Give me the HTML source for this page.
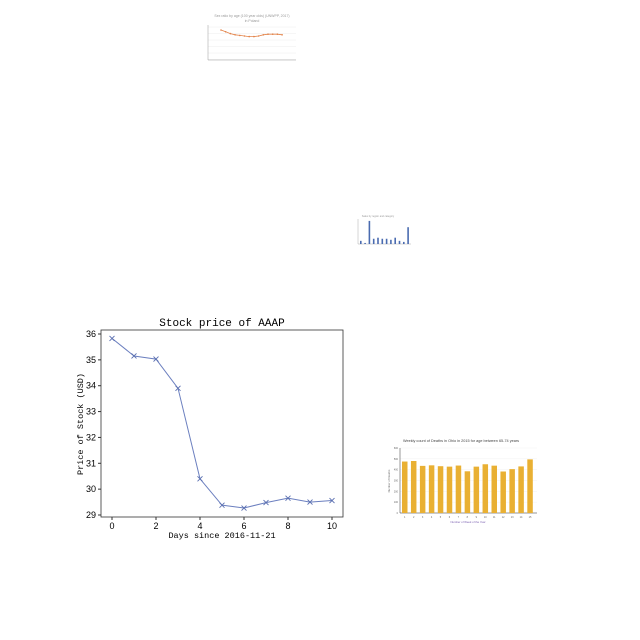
<!DOCTYPE html>
<html><head><meta charset="utf-8"><style>
body{margin:0;background:#fff;width:640px;height:640px;overflow:hidden}
svg{position:absolute;left:0;top:0}
</style></head><body>
<svg width="640" height="640">
<g id="main"></g>
<g id="mini1"></g>
<g id="mini2"></g>
<g id="mini3"></g>
</svg>
<script>
const days=[0,1,2,3,4,5,6,7,8,9,10];
const prices=[35.83,35.15,35.03,33.9,30.4,29.38,29.27,29.48,29.65,29.5,29.56];
const yTicks=[29,30,31,32,33,34,35,36];
const xTicks=[0,2,4,6,8,10];
const ratioVals=[105,102,99,97,96,95,94,94,95,97,98,98,98,97];
const miniBars=[3,1,22,5,6,5,5,4,6,3,2,16];
const weekLabels=[1,2,3,4,5,6,7,8,9,10,11,12,13,14,15];
const deaths=[475,480,435,440,432,428,438,385,428,450,437,383,405,430,495];
const NS='http://www.w3.org/2000/svg';
function el(p,t,a,txt){const e=document.createElementNS(NS,t);for(const k in a)e.setAttribute(k,a[k]);if(txt!==undefined)e.textContent=txt;p.appendChild(e);return e;}
// main
const g=document.getElementById('main');
const X=d=>112+(d-0)*22, Y=v=>515-(v-29)*(181/7);
const mono='"Liberation Mono","DejaVu Sans Mono",monospace';
let t=el(g,'text',{x:222,y:326,'text-anchor':'middle','font-family':mono,'font-size':11},'Stock price of AAAP');

let r=el(g,'rect',{x:101,y:330,width:242,height:187,fill:'none',stroke:'#333','stroke-width':0.8});

yTicks.forEach(v=>{el(g,'line',{x1:98,x2:101,y1:Y(v),y2:Y(v),stroke:'#333'});
 const l=el(g,'text',{x:96,y:Y(v)+3,'text-anchor':'end','font-family':'"Liberation Sans",sans-serif','font-size':9},v);
 });
xTicks.forEach(v=>{el(g,'line',{x1:X(v),x2:X(v),y1:517,y2:520,stroke:'#333'});
 const l=el(g,'text',{x:X(v),y:529,'text-anchor':'middle','font-family':'"Liberation Sans",sans-serif','font-size':9},v);
 });
t=el(g,'text',{x:222,y:538,'text-anchor':'middle','font-family':mono,'font-size':8.5},'Days since 2016-11-21');

t=el(g,'text',{x:0,y:0,transform:'translate(83,424) rotate(-90)','text-anchor':'middle','font-family':mono,'font-size':8.5},'Price of Stock (USD)');

let pl=el(g,'polyline',{points:days.map((d,i)=>X(d)+','+Y(prices[i])).join(' '),fill:'none',stroke:'#6b7fbf','stroke-width':1});

days.forEach((d,i)=>{const x=X(d),y=Y(prices[i]);
 const m=el(g,'path',{d:`M${x-2.5},${y-2.5}L${x+2.5},${y+2.5}M${x-2.5},${y+2.5}L${x+2.5},${y-2.5}`,stroke:'#5a6fb0','stroke-width':0.9});
 });
// mini1
const g1=document.getElementById('mini1');
el(g1,'text',{x:252,y:17,'text-anchor':'middle','font-size':3.5,fill:'#999','font-family':'Liberation Sans'},'Sex ratio by age (100 year olds) (UNWPP, 2017)');
el(g1,'text',{x:252,y:22,'text-anchor':'middle','font-size':3.5,fill:'#999','font-family':'Liberation Sans'},'in Poland');
for(let i=0;i<6;i++)el(g1,'line',{x1:208,x2:296,y1:27+i*6.5,y2:27+i*6.5,stroke:'#eee','stroke-width':0.5});
el(g1,'line',{x1:208,x2:296,y1:60,y2:60,stroke:'#999','stroke-width':0.5});
el(g1,'line',{x1:208,x2:208,y1:25,y2:60,stroke:'#999','stroke-width':0.5});
el(g1,'polyline',{points:ratioVals.map((v,i)=>(221+i*4.7)+','+(30+(105-v)*0.6)).join(' '),fill:'none',stroke:'#e3844a','stroke-width':0.8});
ratioVals.forEach((v,i)=>{const c=el(g1,'circle',{cx:221+i*4.7,cy:30+(105-v)*0.6,r:0.8,fill:'#e3844a'});});
// mini2
const g2=document.getElementById('mini2');
el(g2,'text',{x:378,y:217,'text-anchor':'middle','font-size':2.5,fill:'#999','font-family':'Liberation Sans'},'Sales by region and category');
el(g2,'line',{x1:358,x2:411,y1:244,y2:244,stroke:'#999','stroke-width':0.4});
el(g2,'line',{x1:358,x2:358,y1:219,y2:244,stroke:'#999','stroke-width':0.4});
miniBars.forEach((v,i)=>{const h=v*1.05;const b=el(g2,'rect',{x:360+i*4.3,y:244-h,width:1.6,height:h,fill:'#4a6bb0'});});
// mini3
const g3=document.getElementById('mini3');
el(g3,'text',{x:461,y:442,'text-anchor':'middle','font-size':3.8,fill:'#444','font-family':'Liberation Sans'},'Weekly count of Deaths in Ohio in 2015 for age between 65-74 years');
const BY=v=>513-v*(65/600);
[0,100,200,300,400,500,600].forEach(v=>{el(g3,'line',{x1:400,x2:537,y1:BY(v),y2:BY(v),stroke:'#eee','stroke-width':0.4});el(g3,'text',{x:398,y:BY(v)+1,'text-anchor':'end','font-size':2.5,fill:'#666','font-family':'Liberation Sans'},v);});
el(g3,'line',{x1:400,x2:400,y1:448,y2:513,stroke:'#333','stroke-width':0.5});
el(g3,'line',{x1:400,x2:537,y1:513,y2:513,stroke:'#333','stroke-width':0.5});
deaths.forEach((v,i)=>{const b=el(g3,'rect',{x:402+i*8.95,y:BY(v),width:5.5,height:513-BY(v),fill:'#e9b033'});
 el(g3,'text',{x:404.7+i*8.95,y:518,'text-anchor':'middle','font-size':2.5,fill:'#666','font-family':'Liberation Sans'},weekLabels[i]);});
el(g3,'text',{x:468,y:523,'text-anchor':'middle','font-size':2.8,fill:'#7a5fb0','font-family':'Liberation Sans'},'Number of Week of the Year');
el(g3,'text',{x:0,y:0,transform:'translate(390,481) rotate(-90)','text-anchor':'middle','font-size':2.8,fill:'#666','font-family':'Liberation Sans'},'Number of Deaths');
</script>
</body></html>
